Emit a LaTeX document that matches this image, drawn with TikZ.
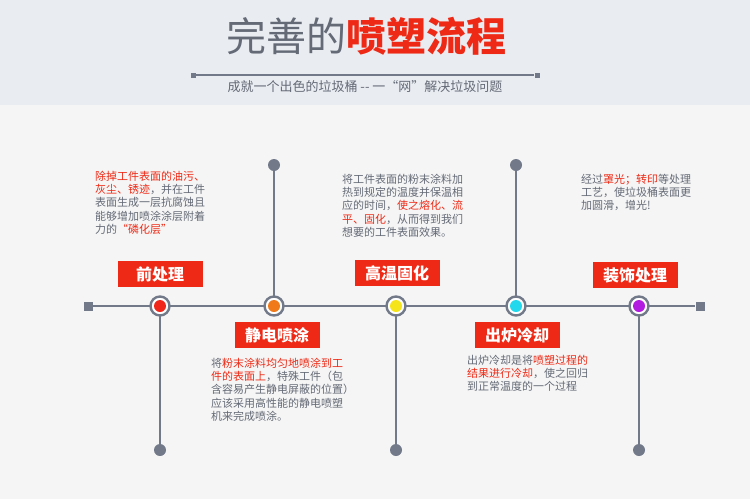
\documentclass[tikz,border=0pt]{standalone}
\usepackage{fontspec}
\setmainfont{Noto Sans CJK SC}
\definecolor{hdr}{RGB}{233,236,241}
\definecolor{bgc}{RGB}{245,245,245}
\definecolor{tgray}{RGB}{100,106,118}
\definecolor{tred}{RGB}{238,42,22}
\definecolor{lgray}{RGB}{114,121,137}
\definecolor{cred}{RGB}{240,38,27}
\definecolor{corange}{RGB}{240,122,26}
\definecolor{cyellow}{RGB}{246,228,26}
\definecolor{ccyan}{RGB}{34,216,236}
\definecolor{cpurple}{RGB}{178,28,224}
\tikzset{
  mainline/.style={draw=lgray, line width=2.6pt},
  ring/.style={circle, draw=lgray, line width=2.4pt, fill=white, minimum size=19pt, inner sep=0pt},
  core/.style={circle, minimum size=12pt, inner sep=0pt},
  enddot/.style={circle, fill=lgray, minimum size=12pt, inner sep=0pt},
  endsq/.style={rectangle, fill=lgray, minimum size=9pt, inner sep=0pt},
  smallsq/.style={rectangle, fill=lgray, minimum size=5pt, inner sep=0pt},
  tag/.style={fill=tred, text=white, font=\fontsize{16}{16}\selectfont\bfseries, minimum width=85pt, minimum height=26pt, inner sep=0pt},
  desc/.style={anchor=north west, align=left, inner sep=0pt, text=tgray, font=\fontsize{11}{13.2}\selectfont},
}
\newcommand{\rd}[1]{\textcolor{tred}{#1}}
\begin{document}
\begin{tikzpicture}[x=1pt,y=-1pt]
\fill[bgc] (0,0) rectangle (750,499);
\fill[hdr] (0,0) rectangle (750,105);
\useasboundingbox (0,0) rectangle (750,499);

% header
\node (title) at (366,36) {\fontsize{40}{40}\selectfont\textcolor{tgray}{完善的}\textcolor{tred}{\bfseries 喷塑流程}};
\node[smallsq] (ts1) at (193,75) {};
\node[smallsq] (ts2) at (537,75) {};
\draw[draw=lgray, line width=1.3pt] (ts1) -- (ts2);
\node[text=tgray, font=\fontsize{13}{13}\selectfont] (sub) at (365,87) {成就一个出色的垃圾桶 -{}- 一“网”解决垃圾问题};

% main line
\node[endsq] (L) at (88,306) {};
\node[endsq] (R) at (700,306) {};
\draw[mainline] (L) -- (R);

% end dots
\node[enddot] (e1) at (160,450) {};
\node[enddot] (e2) at (274,165) {};
\node[enddot] (e3) at (396,450) {};
\node[enddot] (e4) at (516,165) {};
\node[enddot] (e5) at (639,450) {};

\draw[mainline] (160,306) -- (e1);
\draw[mainline] (274,306) -- (e2);
\draw[mainline] (396,306) -- (e3);
\draw[mainline] (516,306) -- (e4);
\draw[mainline] (639,306) -- (e5);

% rings
\node[ring] (c1) at (160,306) {};
\node[ring] (c2) at (274,306) {};
\node[ring] (c3) at (396,306) {};
\node[ring] (c4) at (516,306) {};
\node[ring] (c5) at (639,306) {};
\node[core, fill=cred] (k1) at (c1) {};
\node[core, fill=corange] (k2) at (c2) {};
\node[core, fill=cyellow] (k3) at (c3) {};
\node[core, fill=ccyan] (k4) at (c4) {};
\node[core, fill=cpurple] (k5) at (c5) {};

% tags
\node[tag] (t1) at (160,274) {前处理};
\node[tag] (t2) at (277,335) {静电喷涂};
\node[tag] (t3) at (397,273) {高温固化};
\node[tag] (t4) at (517,335) {出炉冷却};
\node[tag] (t5) at (635,275) {装饰处理};

% descriptions
\node[desc] (d1) at (95,171) {\rd{除掉工件表面的油污、}\\\rd{灰尘、锈迹}，并在工件\\表面生成一层抗腐蚀且\\能够增加喷涂涂层附着\\力的\rd{“磷化层”}};
\node[desc] (d3) at (342,174) {将工件表面的粉末涂料加\\热到规定的温度并保温相\\应的时间，\rd{使之熔化、流}\\\rd{平、固化}，从而得到我们\\想要的工件表面效果。};
\node[desc] (d5) at (581,174) {经过\rd{罩光；转印}等处理\\工艺，使垃圾桶表面更\\加圆滑，增光!};
\node[desc] (d2) at (211,358) {将\rd{粉末涂料均匀地喷涂到工}\\\rd{件的表面上}，特殊工件（包\\含容易产生静电屏蔽的位置）\\应该采用高性能的静电喷塑\\机来完成喷涂。};
\node[desc] (d4) at (467,355) {出炉冷却是将\rd{喷塑过程的}\\\rd{结果进行冷却}，使之回归\\到正常温度的一个过程};
\end{tikzpicture}
\end{document}
